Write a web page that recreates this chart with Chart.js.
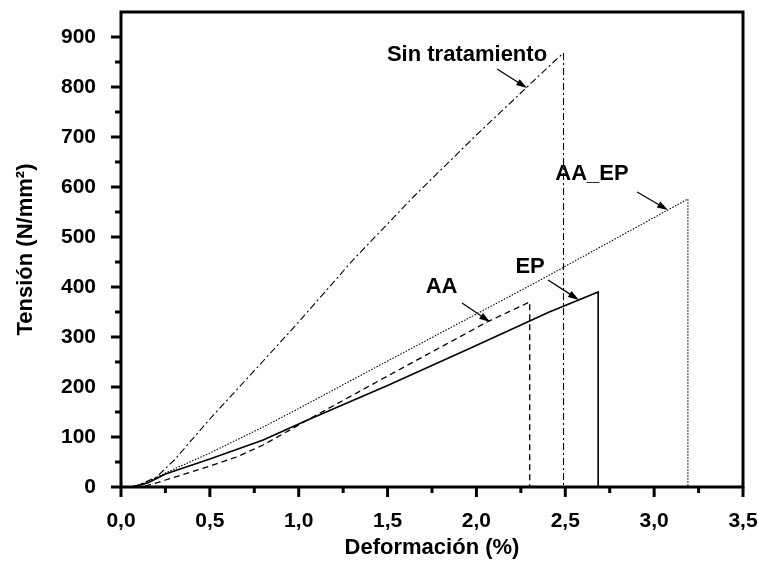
<!DOCTYPE html>
<html>
<head>
<meta charset="utf-8">
<script src="https://cdn.jsdelivr.net/npm/chart.js@4.4.0/dist/chart.umd.min.js"></script>
<style>
  html, body { margin: 0; padding: 0; background: #fff; }
  #wrap { width: 759px; height: 563px; }
</style>
</head>
<body>
<div id="wrap"><canvas id="tensionChart" width="759" height="563"></canvas></div>
<script>
// stress-strain curves, deformation in % and stress in N/mm2
const sinX  = [0.06, 0.1, 0.2, 0.3, 0.5, 0.8, 1.0, 1.3, 1.65, 2.0, 2.285, 2.44, 2.49, 2.49];
const sinY  = [0, 4, 20, 54, 136, 252, 330, 452, 582, 704, 800, 852, 868, 0];

const aaepX = [0.06, 0.15, 0.25, 0.5, 0.8, 1.0, 1.5, 2.0, 2.36, 2.8, 3.19, 3.19];
const aaepY = [0, 10, 28, 68, 120, 157, 252, 346, 414, 500, 576, 0];

const epX   = [0.06, 0.15, 0.25, 0.5, 0.8, 1.05, 1.5, 1.98, 2.41, 2.685, 2.685];
const epY   = [0, 8, 26, 56, 94, 134, 203, 280, 350, 390, 0];

const aaX   = [0.08, 0.15, 0.25, 0.5, 0.65, 0.8, 0.9, 1.08, 1.5, 2.06, 2.3, 2.3];
const aaY   = [0, 3, 14, 42, 60, 84, 104, 140, 222, 330, 370, 0];

const xTicks = [0, 0.5, 1.0, 1.5, 2.0, 2.5, 3.0, 3.5];
const yTicks = [0, 100, 200, 300, 400, 500, 600, 700, 800, 900];

// labels with arrows, in data coordinates
const notes = [
  { text: 'Sin tratamiento', at: [1.947, 864], from: [2.116, 836], to: [2.285, 798] },
  { text: 'AA_EP',           at: [2.65, 626],  from: [2.904, 590], to: [3.078, 554] },
  { text: 'EP',              at: [2.302, 440], from: [2.403, 414], to: [2.577, 374] },
  { text: 'AA',              at: [1.804, 400], from: [1.919, 368], to: [2.077, 330] }
];

const FONT = 'Liberation Sans, Arial, sans-serif';

function pts(xs, ys) {
  return xs.map((x, i) => ({ x: x, y: ys[i] }));
}

function line(label, xs, ys, dash, width) {
  return {
    label: label,
    data: pts(xs, ys),
    showLine: true,
    borderColor: '#000',
    borderWidth: width,
    borderDash: dash,
    pointRadius: 0,
    tension: 0,
    fill: false
  };
}

// no extra room for edge labels, the plot box is fixed
function noPad(s) {
  s.paddingTop = 0;
  s.paddingBottom = 0;
  s.paddingLeft = 0;
  s.paddingRight = 0;
}

// frame, tick marks and annotation arrows
const decor = {
  id: 'decor',
  afterDraw(chart) {
    const ctx = chart.ctx;
    const a = chart.chartArea;
    const xs = chart.scales.x, ys = chart.scales.y;
    ctx.save();
    ctx.strokeStyle = '#000';
    ctx.lineWidth = 3;
    ctx.strokeRect(a.left, a.top, a.right - a.left, a.bottom - a.top);

    for (let v = 0; v <= 3.5001; v += 0.25) {
      const px = xs.getPixelForValue(v);
      const major = Math.abs(v * 2 - Math.round(v * 2)) < 1e-6;
      ctx.beginPath();
      ctx.moveTo(px, a.bottom);
      ctx.lineTo(px, a.bottom + (major ? 10 : 6));
      ctx.stroke();
    }
    for (let v = 0; v <= 900; v += 50) {
      const py = ys.getPixelForValue(v);
      const major = v % 100 === 0;
      ctx.beginPath();
      ctx.moveTo(a.left, py);
      ctx.lineTo(a.left - (major ? 10 : 6), py);
      ctx.stroke();
    }

    ctx.fillStyle = '#000';
    ctx.font = 'bold 22px ' + FONT;
    ctx.textAlign = 'center';
    ctx.textBaseline = 'middle';
    ctx.lineWidth = 1.3;
    notes.forEach(n => {
      ctx.fillText(n.text, xs.getPixelForValue(n.at[0]), ys.getPixelForValue(n.at[1]));
      const x0 = xs.getPixelForValue(n.from[0]), y0 = ys.getPixelForValue(n.from[1]);
      const x1 = xs.getPixelForValue(n.to[0]),   y1 = ys.getPixelForValue(n.to[1]);
      const ang = Math.atan2(y1 - y0, x1 - x0);
      ctx.beginPath();
      ctx.moveTo(x0, y0);
      ctx.lineTo(x1 - 8 * Math.cos(ang), y1 - 8 * Math.sin(ang));
      ctx.stroke();
      ctx.beginPath();
      ctx.moveTo(x1, y1);
      ctx.lineTo(x1 - 11 * Math.cos(ang) + 3.5 * Math.sin(ang), y1 - 11 * Math.sin(ang) - 3.5 * Math.cos(ang));
      ctx.lineTo(x1 - 11 * Math.cos(ang) - 3.5 * Math.sin(ang), y1 - 11 * Math.sin(ang) + 3.5 * Math.cos(ang));
      ctx.closePath();
      ctx.fill();
    });
    ctx.restore();
  }
};

function drawChart() {
  const ctx = document.getElementById('tensionChart').getContext('2d');
  new Chart(ctx, {
    type: 'scatter',
    data: {
      datasets: [
        line('Sin tratamiento', sinX, sinY, [7, 3, 2, 3], 1.1),
        line('AA_EP', aaepX, aaepY, [1.5, 1.5], 1.1),
        line('EP', epX, epY, [], 1.6),
        line('AA', aaX, aaY, [6, 4], 1.3)
      ]
    },
    options: {
      responsive: false,
      animation: false,
      layout: { padding: { left: 0, right: 16, top: 12, bottom: 0 } },
      plugins: { legend: { display: false }, tooltip: { enabled: false } },
      scales: {
        x: {
          type: 'linear',
          min: 0,
          max: 3.5,
          afterBuildTicks: s => { s.ticks = xTicks.map(v => ({ value: v })); },
          afterFit: s => { s.height = 76; noPad(s); },
          grid: { display: false },
          border: { display: false },
          ticks: {
            padding: 14,
            color: '#000',
            font: { family: FONT, size: 21, weight: 'bold' },
            callback: v => v.toFixed(1).replace('.', ',')
          },
          title: {
            display: true,
            text: 'Deformación (%)',
            color: '#000',
            font: { family: FONT, size: 22, weight: 'bold' },
            padding: { top: 0, bottom: 2 }
          }
        },
        y: {
          type: 'linear',
          min: 0,
          max: 950,
          afterBuildTicks: s => { s.ticks = yTicks.map(v => ({ value: v })); },
          afterFit: s => { s.width = 121; noPad(s); },
          grid: { display: false },
          border: { display: false },
          ticks: {
            padding: 17,
            color: '#000',
            font: { family: FONT, size: 21, weight: 'bold' },
            callback: v => String(v)
          },
          title: {
            display: true,
            text: 'Tensión (N/mm²)',
            color: '#000',
            font: { family: FONT, size: 22, weight: 'bold' },
            padding: { top: 13, bottom: 0 }
          }
        }
      }
    },
    plugins: [decor]
  });
}

document.addEventListener('DOMContentLoaded', drawChart);
</script>
</body>
</html>
